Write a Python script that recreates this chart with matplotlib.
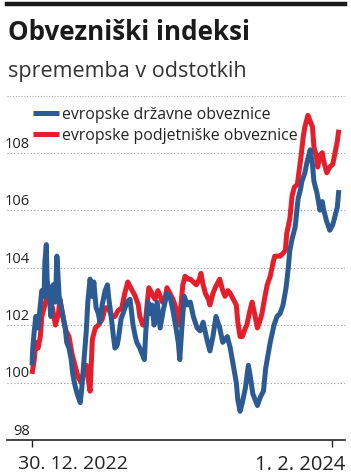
import numpy as np
import pandas as pd
import matplotlib
matplotlib.use("Agg")
import matplotlib.pyplot as plt

# values; time given as days after 30. 12. 2022
start = pd.Timestamp("2022-12-30")

drzavne_days = [0, 1, 3, 5, 8, 11, 13, 16, 17, 19, 20, 23, 25, 28, 31, 33, 36, 39, 41,
                44, 46, 49, 52, 54, 57, 60, 64, 66, 69, 72, 74, 77, 80, 82, 85, 88, 90,
                93, 97, 100, 102, 105, 108, 110, 113, 115, 118, 122, 126, 130, 134, 137,
                139, 143, 146, 149, 151, 154, 157, 159, 162, 166, 170, 174, 179, 183,
                187, 191, 194, 196, 199, 202, 206, 210, 214, 219, 223, 227, 232, 236,
                240, 244, 249, 253, 259, 263, 267, 271, 273, 276, 279, 283, 287, 289,
                293, 299, 303, 307, 310, 316, 321, 325, 329, 333, 337, 340, 342, 345,
                349, 353, 356, 358, 362, 365, 369, 372, 374, 378, 382, 385, 387, 391,
                395, 399, 403, 405, 407]
drzavne = [100.6, 101.2, 101.8, 102.3, 101.9, 102.7, 103.2, 103.0, 104.2, 104.8, 103.6,
           102.9, 102.3, 103.4, 102.8, 104.4, 103.0, 102.6, 102.3, 101.9, 101.4, 101.2,
           100.8, 100.3, 99.9, 99.6, 99.3, 99.8, 100.8, 101.8, 102.8, 103.6, 103.0,
           103.5, 102.6, 102.4, 102.1, 102.7, 103.2, 103.4, 102.9, 102.3, 101.6, 101.2,
           101.3, 101.6, 102.2, 102.5, 102.8, 102.9, 102.0, 101.6, 101.4, 101.2, 101.0,
           100.8, 101.8, 102.8, 102.4, 102.7, 102.0, 102.8, 101.9, 102.5, 103.1, 103.0,
           102.5, 101.9, 101.4, 100.8, 102.0, 103.0, 102.7, 102.8, 102.3, 101.9, 101.8,
           102.1, 101.5, 101.1, 101.6, 102.3, 101.9, 101.4, 101.6, 101.2, 100.6, 100.0,
           99.4, 99.0, 99.3, 99.8, 100.6, 100.3, 99.6, 99.2, 99.5, 99.7, 100.5, 101.4,
           102.0, 102.3, 102.4, 102.7, 103.3, 104.0, 104.6, 105.0, 105.4, 106.4, 106.7,
           107.0, 107.3, 107.7, 108.1, 107.6, 107.0, 106.6, 106.0, 106.3, 106.0, 105.6,
           105.3, 105.5, 105.9, 106.1, 106.7]

podjetniske_days = [0, 3, 5, 8, 11, 13, 16, 20, 24, 27, 31, 35, 37, 41, 45, 49, 53, 57,
                    61, 65, 68, 72, 74, 77, 80, 84, 88, 93, 97, 101, 106, 110, 114, 119,
                    123, 127, 131, 137, 141, 143, 147, 150, 153, 155, 159, 163, 167, 173,
                    177, 179, 183, 187, 192, 195, 198, 200, 203, 207, 210, 214, 218, 222,
                    224, 227, 230, 234, 236, 240, 243, 247, 249, 253, 256, 260, 263, 267,
                    271, 273, 276, 279, 283, 285, 289, 292, 296, 299, 303, 305, 309, 312,
                    316, 320, 322, 326, 329, 333, 336, 338, 342, 345, 348, 352, 354, 357,
                    360, 362, 366, 369, 372, 374, 377, 379, 382, 385, 387, 391, 395, 399,
                    402, 405, 407]
podjetniske = [100.3, 100.8, 101.4, 101.2, 101.6, 102.3, 102.6, 103.0, 102.8, 102.6,
               102.0, 102.4, 102.9, 102.3, 101.8, 101.6, 101.0, 100.6, 100.2, 100.0,
               100.3, 100.6, 100.2, 99.7, 101.5, 101.9, 102.0, 102.2, 102.6, 102.6,
               102.3, 102.3, 102.5, 102.6, 103.1, 103.5, 103.3, 103.0, 102.7, 102.3,
               102.0, 102.0, 102.8, 103.3, 103.1, 102.9, 103.2, 102.8, 103.0, 103.3,
               103.1, 102.9, 102.5, 102.0, 102.8, 103.4, 103.7, 103.6, 103.6, 103.5,
               103.4, 103.6, 103.8, 103.4, 103.1, 102.9, 102.7, 103.1, 103.3, 103.5,
               103.6, 103.2, 103.0, 103.2, 103.1, 102.9, 102.7, 102.1, 101.6, 101.6,
               101.9, 102.0, 102.5, 102.8, 102.3, 101.9, 102.2, 102.4, 103.0, 103.4,
               103.7, 104.2, 104.4, 104.4, 104.4, 104.5, 104.6, 105.2, 105.7, 106.5,
               106.8, 106.9, 107.3, 107.9, 108.6, 108.9, 109.3, 109.1, 108.9, 108.2,
               107.9, 107.5, 107.9, 108.0, 107.7, 107.3, 107.5, 107.6, 108.0, 108.4,
               108.8]

yticks = [98, 100, 102, 104, 106, 108]
xtick_labels = ["30. 12. 2022", "1. 2. 2024"]
xtick_dates = [pd.Timestamp("2022-12-30"), pd.Timestamp("2024-02-01")]
labels = ["evropske državne obveznice", "evropske podjetniške obveznice"]

blue = "#2c5b94"
red = "#e41e2b"
plt.rcParams["font.family"] = ["Open Sans", "DejaVu Sans"]

W, H = 351, 477
fig = plt.figure(figsize=(W / 100, H / 100), dpi=100)

def px(x0, y0, x1, y1):
    return [x0 / W, 1 - y1 / H, (x1 - x0) / W, (y1 - y0) / H]

ax = fig.add_axes(px(7, 102, 345, 441))

d_x = [start + pd.Timedelta(days=d) for d in drzavne_days]
p_x = [start + pd.Timedelta(days=d) for d in podjetniske_days]

l_red, = ax.plot(p_x, podjetniske, color=red, lw=3.6, solid_joinstyle="round",
                 solid_capstyle="butt", zorder=3)
l_blue, = ax.plot(d_x, drzavne, color=blue, lw=3.6, solid_joinstyle="round",
                  solid_capstyle="butt", zorder=4)

ax.set_xlim(start - pd.Timedelta(days=33.2), start + pd.Timedelta(days=415.2))
ax.set_ylim(98, 109.8)

for v in yticks[1:]:
    ax.axhline(v, color="#999999", lw=0.8, ls=(0, (1, 2)), zorder=1)
for v in yticks:
    ax.annotate(str(v), xy=(0.068, v), xycoords=("axes fraction", "data"),
                xytext=(0, 1.5), textcoords="offset points", ha="right", va="bottom",
                fontsize=10.5, color="#222222")

for s in ["top", "right", "left"]:
    ax.spines[s].set_visible(False)
ax.spines["bottom"].set_color("#222222")
ax.spines["bottom"].set_linewidth(1.2)
ax.set_yticks([])
ax.set_xticks(xtick_dates)
ax.set_xticklabels([])
ax.tick_params(axis="x", length=5, width=1, color="#222222")

ax.text(0.032, -0.04, xtick_labels[0], transform=ax.transAxes, ha="left", va="top",
        fontsize=14, color="#222222")
ax.text(1.0, -0.04, xtick_labels[1], transform=ax.transAxes, ha="right", va="top",
        fontsize=14.5, color="#222222")

leg = ax.legend([l_blue, l_red], labels, loc="upper left", bbox_to_anchor=(0.076, 0.985),
                frameon=False, fontsize=11.4, handlelength=1.65, handletextpad=0.2,
                labelspacing=0.32, borderaxespad=0, borderpad=0)
for t in leg.get_texts():
    t.set_color("#222222")

# header
fig.add_artist(plt.Line2D([7 / W, 345 / W], [1 - 5 / H, 1 - 5 / H], color="#1a1a1a", lw=3.2))
fig.text(8 / W, 1 - 33 / H, "Obvezniški indeksi", fontsize=18.7, fontweight="bold",
         va="center", ha="left", color="#1a1a1a")
fig.text(8 / W, 1 - 72 / H, "sprememba v odstotkih", fontsize=15.5, va="center",
         ha="left", color="#333333")
fig.add_artist(plt.Line2D([7 / W, 345 / W], [1 - 97 / H, 1 - 97 / H], color="#aaaaaa",
                          lw=0.8, ls=(0, (1, 1.5))))

fig.savefig("out.png", dpi=100)
